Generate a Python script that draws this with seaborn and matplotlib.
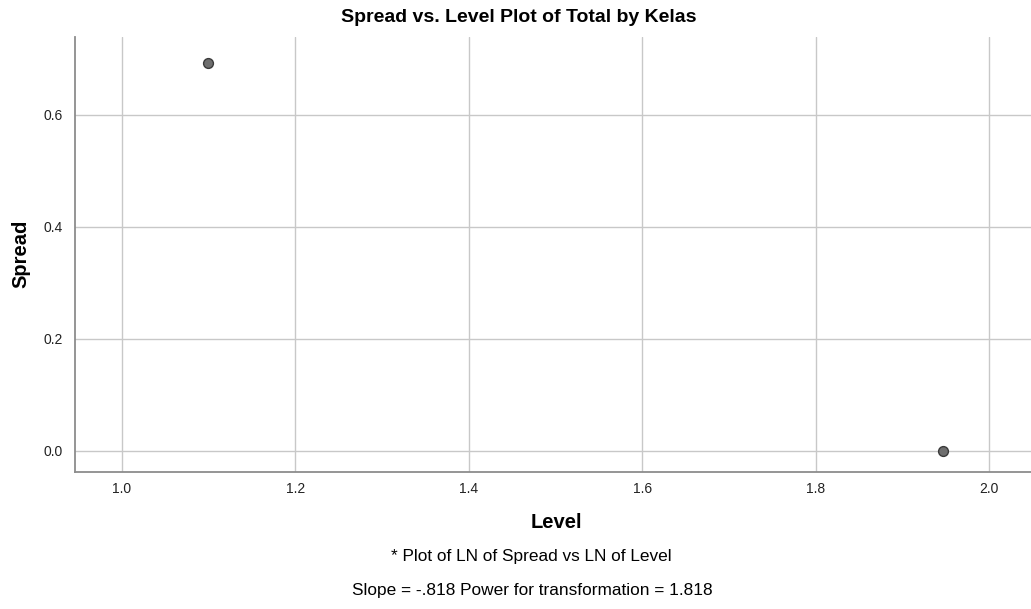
import numpy as np
import pandas as pd
import matplotlib
matplotlib.use('Agg')
import matplotlib.pyplot as plt
import seaborn as sns

# --- Data (LN of level vs LN of spread, per Kelas) ---
level = [1.099, 1.946]
spread = [0.693, 0.0]
x_ticks = [1.0, 1.2, 1.4, 1.6, 1.8, 2.0]
y_ticks = [0.0, 0.2, 0.4, 0.6]

df = pd.DataFrame({"Level": level, "Spread": spread})

sns.set_style("white")
plt.rcParams["font.family"] = ["Liberation Sans", "DejaVu Sans"]
plt.rcParams["text.color"] = "black"

fig = plt.figure(figsize=(10.31, 6.09), dpi=100)
ax = fig.add_axes([0.0727, 0.225, 0.9273, 0.714])

sns.scatterplot(data=df, x="Level", y="Spread", ax=ax, s=50,
                color="#6e6e6e", edgecolor="#3a3a3a", linewidth=1.0, zorder=3)

ax.set_xlim(0.9458, 2.048)
ax.set_ylim(-0.0375, 0.739)
ax.set_xticks(x_ticks)
ax.set_yticks(y_ticks)
ax.set_xticklabels([f"{v:.1f}" for v in x_ticks], fontsize=10, color="#222222")
ax.set_yticklabels([f"{v:.1f}" for v in y_ticks], fontsize=10, color="#222222")
ax.tick_params(axis="x", length=0, pad=7)
ax.tick_params(axis="y", length=0, pad=9)
ax.grid(True, color="#c8c8c8", linewidth=1.0)
ax.set_axisbelow(True)

for s in ["top", "right"]:
    ax.spines[s].set_visible(False)
for s in ["left", "bottom"]:
    ax.spines[s].set_color("#8c8c8c")
    ax.spines[s].set_linewidth(1.3)

ax.set_xlabel("")
ax.set_ylabel("")
fig.text(519 / 1031, 1 - 18 / 609, "Spread vs. Level Plot of Total by Kelas",
         ha="center", va="center", fontsize=14, fontweight="bold")
fig.text(21 / 1031, 1 - 254 / 609, "Spread", rotation=90, ha="center", va="center",
         fontsize=14.5, fontweight="bold")
fig.text(556 / 1031, 1 - 522 / 609, "Level", ha="center", va="center",
         fontsize=14.5, fontweight="bold")
fig.text(531 / 1031, 1 - 557 / 609, "* Plot of LN of Spread vs LN of Level",
         ha="center", va="center", fontsize=12.4)
fig.text(532 / 1031, 1 - 591 / 609, "Slope = -.818 Power for transformation = 1.818",
         ha="center", va="center", fontsize=12.4)

fig.savefig("out.png", dpi=100)
